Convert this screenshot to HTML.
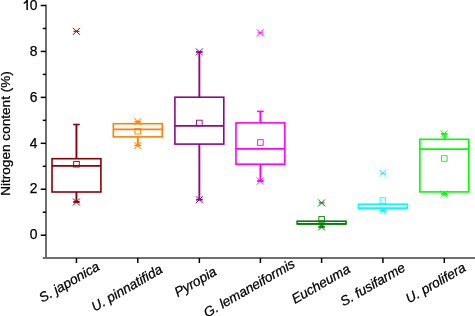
<!DOCTYPE html>
<html><head><meta charset="utf-8">
<style>
html,body{margin:0;padding:0;background:#fff;}
body{width:475px;height:316px;overflow:hidden;}
svg{display:block;will-change:transform;}
.tl{font-family:"Liberation Sans",sans-serif;font-size:13.8px;fill:#000;stroke:#000;stroke-width:0.25px;}
.xl{font-family:"Liberation Sans",sans-serif;font-size:13.6px;font-style:italic;fill:#000;stroke:#000;stroke-width:0.25px;}
.yt{font-family:"Liberation Sans",sans-serif;font-size:13.6px;fill:#000;stroke:#000;stroke-width:0.25px;}
</style></head><body>
<svg width="475" height="316" viewBox="0 0 475 316">
<rect width="475" height="316" fill="#fff"/>
<rect x="45" y="4.6" width="2" height="254.4" fill="#6e6e6e"/>
<rect x="42.8" y="257" width="432.2" height="2" fill="#6e6e6e"/>
<line x1="40.7" y1="235.2" x2="46" y2="235.2" stroke="#000" stroke-width="1.5"/>
<line x1="42.8" y1="212.23" x2="46" y2="212.23" stroke="#000" stroke-width="1.5"/>
<line x1="40.7" y1="189.26" x2="46" y2="189.26" stroke="#000" stroke-width="1.5"/>
<line x1="42.8" y1="166.29" x2="46" y2="166.29" stroke="#000" stroke-width="1.5"/>
<line x1="40.7" y1="143.32" x2="46" y2="143.32" stroke="#000" stroke-width="1.5"/>
<line x1="42.8" y1="120.35" x2="46" y2="120.35" stroke="#000" stroke-width="1.5"/>
<line x1="40.7" y1="97.38" x2="46" y2="97.38" stroke="#000" stroke-width="1.5"/>
<line x1="42.8" y1="74.41" x2="46" y2="74.41" stroke="#000" stroke-width="1.5"/>
<line x1="40.7" y1="51.44" x2="46" y2="51.44" stroke="#000" stroke-width="1.5"/>
<line x1="42.8" y1="28.47" x2="46" y2="28.47" stroke="#000" stroke-width="1.5"/>
<line x1="40.7" y1="5.5" x2="46" y2="5.5" stroke="#000" stroke-width="1.5"/>
<text x="37.4" y="239.4" text-anchor="end" class="tl">0</text>
<text x="37.4" y="193.46" text-anchor="end" class="tl">2</text>
<text x="37.4" y="147.52" text-anchor="end" class="tl">4</text>
<text x="37.4" y="101.58" text-anchor="end" class="tl">6</text>
<text x="37.4" y="55.64" text-anchor="end" class="tl">8</text>
<text x="37.4" y="9.7" text-anchor="end" class="tl">0</text>
<path d="M26.5 0.1H27.9V9.9H26.4V2.6C25.6 3.3 24.6 3.8 23.7 4.1V2.6C24.9 2.1 25.9 1.1 26.4 0.1Z" fill="#000"/>
<line x1="76.45" y1="258" x2="76.45" y2="263" stroke="#000" stroke-width="1.5"/>
<line x1="137.8" y1="258" x2="137.8" y2="263" stroke="#000" stroke-width="1.5"/>
<line x1="199.35" y1="258" x2="199.35" y2="263" stroke="#000" stroke-width="1.5"/>
<line x1="260.4" y1="258" x2="260.4" y2="263" stroke="#000" stroke-width="1.5"/>
<line x1="321.6" y1="258" x2="321.6" y2="263" stroke="#000" stroke-width="1.5"/>
<line x1="382.9" y1="258" x2="382.9" y2="263" stroke="#000" stroke-width="1.5"/>
<line x1="444.3" y1="258" x2="444.3" y2="263" stroke="#000" stroke-width="1.5"/>
<line x1="76.45" y1="124.5" x2="76.45" y2="158.7" stroke="#860008" stroke-width="1.9"/>
<line x1="76.45" y1="192" x2="76.45" y2="202" stroke="#860008" stroke-width="1.9"/>
<line x1="73.15" y1="124.5" x2="79.75" y2="124.5" stroke="#860008" stroke-width="1.6"/>
<line x1="73.15" y1="202" x2="79.75" y2="202" stroke="#860008" stroke-width="1.6"/>
<rect x="52" y="158.7" width="48.9" height="33.3" fill="none" stroke="#860008" stroke-width="1.6"/>
<line x1="52" y1="165.8" x2="100.9" y2="165.8" stroke="#860008" stroke-width="1.8"/>
<rect x="73.65" y="161.4" width="5.6" height="5.6" fill="none" stroke="#860008" stroke-width="0.9"/>
<path d="M72.95 27.8L79.95 34.8M72.95 34.8L79.95 27.8" stroke="#860008" stroke-width="1" fill="none"/>
<line x1="73.45" y1="31.3" x2="79.45" y2="31.3" stroke="#860008" stroke-width="1"/>
<path d="M72.95 198.5L79.95 205.5M72.95 205.5L79.95 198.5" stroke="#860008" stroke-width="1" fill="none"/>
<line x1="73.45" y1="202" x2="79.45" y2="202" stroke="#860008" stroke-width="1"/>
<line x1="137.8" y1="121.6" x2="137.8" y2="123.7" stroke="#FF8000" stroke-width="1.9"/>
<line x1="137.8" y1="136.9" x2="137.8" y2="145.5" stroke="#FF8000" stroke-width="1.9"/>
<line x1="134.5" y1="121.6" x2="141.1" y2="121.6" stroke="#FF8000" stroke-width="1.6"/>
<line x1="134.5" y1="145.5" x2="141.1" y2="145.5" stroke="#FF8000" stroke-width="1.6"/>
<rect x="113.35" y="123.7" width="48.9" height="13.2" fill="none" stroke="#FF8000" stroke-width="1.6"/>
<line x1="113.35" y1="129.4" x2="162.25" y2="129.4" stroke="#FF8000" stroke-width="1.8"/>
<rect x="135" y="128.4" width="5.6" height="5.6" fill="none" stroke="#FF8000" stroke-width="0.9"/>
<path d="M134.3 118.1L141.3 125.1M134.3 125.1L141.3 118.1" stroke="#FF8000" stroke-width="1" fill="none"/>
<line x1="134.8" y1="121.6" x2="140.8" y2="121.6" stroke="#FF8000" stroke-width="1"/>
<path d="M134.3 142L141.3 149M134.3 149L141.3 142" stroke="#FF8000" stroke-width="1" fill="none"/>
<line x1="134.8" y1="145.5" x2="140.8" y2="145.5" stroke="#FF8000" stroke-width="1"/>
<line x1="199.35" y1="51.9" x2="199.35" y2="97.2" stroke="#8a0a8a" stroke-width="1.9"/>
<line x1="199.35" y1="144.1" x2="199.35" y2="199.7" stroke="#8a0a8a" stroke-width="1.9"/>
<line x1="196.05" y1="51.9" x2="202.65" y2="51.9" stroke="#8a0a8a" stroke-width="1.6"/>
<line x1="196.05" y1="199.7" x2="202.65" y2="199.7" stroke="#8a0a8a" stroke-width="1.6"/>
<rect x="174.9" y="97.2" width="48.9" height="46.9" fill="none" stroke="#8a0a8a" stroke-width="1.6"/>
<line x1="174.9" y1="125.8" x2="223.8" y2="125.8" stroke="#8a0a8a" stroke-width="1.8"/>
<rect x="196.55" y="120.2" width="5.6" height="5.6" fill="none" stroke="#8a0a8a" stroke-width="0.9"/>
<path d="M195.85 48.4L202.85 55.4M195.85 55.4L202.85 48.4" stroke="#8a0a8a" stroke-width="1" fill="none"/>
<line x1="196.35" y1="51.9" x2="202.35" y2="51.9" stroke="#8a0a8a" stroke-width="1"/>
<path d="M195.85 196.2L202.85 203.2M195.85 203.2L202.85 196.2" stroke="#8a0a8a" stroke-width="1" fill="none"/>
<line x1="196.35" y1="199.7" x2="202.35" y2="199.7" stroke="#8a0a8a" stroke-width="1"/>
<line x1="260.4" y1="111.4" x2="260.4" y2="122.9" stroke="#FF00FF" stroke-width="1.9"/>
<line x1="260.4" y1="164.2" x2="260.4" y2="181.1" stroke="#FF00FF" stroke-width="1.9"/>
<line x1="257.1" y1="111.4" x2="263.7" y2="111.4" stroke="#FF00FF" stroke-width="1.6"/>
<line x1="257.1" y1="181.1" x2="263.7" y2="181.1" stroke="#FF00FF" stroke-width="1.6"/>
<rect x="235.95" y="122.9" width="48.9" height="41.3" fill="none" stroke="#FF00FF" stroke-width="1.6"/>
<line x1="235.95" y1="148.8" x2="284.85" y2="148.8" stroke="#FF00FF" stroke-width="1.8"/>
<rect x="257.6" y="139.7" width="5.6" height="5.6" fill="none" stroke="#FF00FF" stroke-width="0.9"/>
<path d="M256.9 29.4L263.9 36.4M256.9 36.4L263.9 29.4" stroke="#FF00FF" stroke-width="1" fill="none"/>
<line x1="257.4" y1="32.9" x2="263.4" y2="32.9" stroke="#FF00FF" stroke-width="1"/>
<path d="M256.9 177.6L263.9 184.6M256.9 184.6L263.9 177.6" stroke="#FF00FF" stroke-width="1" fill="none"/>
<line x1="257.4" y1="181.1" x2="263.4" y2="181.1" stroke="#FF00FF" stroke-width="1"/>
<line x1="321.6" y1="221.2" x2="321.6" y2="221.2" stroke="#008000" stroke-width="1.9"/>
<line x1="321.6" y1="223.9" x2="321.6" y2="227" stroke="#008000" stroke-width="1.9"/>
<line x1="318.3" y1="221.2" x2="324.9" y2="221.2" stroke="#008000" stroke-width="1.6"/>
<line x1="318.3" y1="227" x2="324.9" y2="227" stroke="#008000" stroke-width="1.6"/>
<rect x="297.15" y="221.2" width="48.9" height="2.7" fill="none" stroke="#008000" stroke-width="1.6"/>
<line x1="297.15" y1="223.9" x2="346.05" y2="223.9" stroke="#008000" stroke-width="1.8"/>
<rect x="318.8" y="216.6" width="5.6" height="5.6" fill="none" stroke="#008000" stroke-width="0.9"/>
<path d="M318.1 199.4L325.1 206.4M318.1 206.4L325.1 199.4" stroke="#008000" stroke-width="1" fill="none"/>
<line x1="318.6" y1="202.9" x2="324.6" y2="202.9" stroke="#008000" stroke-width="1"/>
<path d="M318.1 223.5L325.1 230.5M318.1 230.5L325.1 223.5" stroke="#008000" stroke-width="1" fill="none"/>
<line x1="318.6" y1="227" x2="324.6" y2="227" stroke="#008000" stroke-width="1"/>
<line x1="382.9" y1="204.2" x2="382.9" y2="204.2" stroke="#00FFFF" stroke-width="1.9"/>
<line x1="382.9" y1="208.3" x2="382.9" y2="210.7" stroke="#00FFFF" stroke-width="1.9"/>
<line x1="379.6" y1="204.2" x2="386.2" y2="204.2" stroke="#00FFFF" stroke-width="1.6"/>
<line x1="379.6" y1="210.7" x2="386.2" y2="210.7" stroke="#00FFFF" stroke-width="1.6"/>
<rect x="358.45" y="204.2" width="48.9" height="4.1" fill="none" stroke="#00FFFF" stroke-width="1.6"/>
<line x1="358.45" y1="208.3" x2="407.35" y2="208.3" stroke="#00FFFF" stroke-width="1.8"/>
<rect x="380.1" y="197.8" width="5.6" height="5.6" fill="none" stroke="#00FFFF" stroke-width="0.9"/>
<path d="M379.4 169.8L386.4 176.8M379.4 176.8L386.4 169.8" stroke="#00FFFF" stroke-width="1" fill="none"/>
<line x1="379.9" y1="173.3" x2="385.9" y2="173.3" stroke="#00FFFF" stroke-width="1"/>
<path d="M379.4 207.2L386.4 214.2M379.4 214.2L386.4 207.2" stroke="#00FFFF" stroke-width="1" fill="none"/>
<line x1="379.9" y1="210.7" x2="385.9" y2="210.7" stroke="#00FFFF" stroke-width="1"/>
<line x1="444.3" y1="133.9" x2="444.3" y2="139.3" stroke="#00FF00" stroke-width="1.9"/>
<line x1="444.3" y1="191.9" x2="444.3" y2="194" stroke="#00FF00" stroke-width="1.9"/>
<line x1="441" y1="133.9" x2="447.6" y2="133.9" stroke="#00FF00" stroke-width="1.6"/>
<line x1="441" y1="194" x2="447.6" y2="194" stroke="#00FF00" stroke-width="1.6"/>
<rect x="419.85" y="139.3" width="48.9" height="52.6" fill="none" stroke="#00FF00" stroke-width="1.6"/>
<line x1="419.85" y1="149.1" x2="468.75" y2="149.1" stroke="#00FF00" stroke-width="1.8"/>
<rect x="441.5" y="155.7" width="5.6" height="5.6" fill="none" stroke="#00FF00" stroke-width="0.9"/>
<path d="M440.8 130.4L447.8 137.4M440.8 137.4L447.8 130.4" stroke="#00FF00" stroke-width="1" fill="none"/>
<line x1="441.3" y1="133.9" x2="447.3" y2="133.9" stroke="#00FF00" stroke-width="1"/>
<path d="M440.8 190.5L447.8 197.5M440.8 197.5L447.8 190.5" stroke="#00FF00" stroke-width="1" fill="none"/>
<line x1="441.3" y1="194" x2="447.3" y2="194" stroke="#00FF00" stroke-width="1"/>
<text x="100.6" y="269.1" text-anchor="end" class="xl" transform="rotate(-30 100.6 269.1)">S. japonica</text>
<text x="163.5" y="272" text-anchor="end" class="xl" transform="rotate(-30 163.5 272)">U. pinnatifida</text>
<text x="217.6" y="274.3" text-anchor="end" class="xl" transform="rotate(-30 217.6 274.3)">Pyropia</text>
<text x="296" y="266.4" text-anchor="end" class="xl" transform="rotate(-30 296 266.4)">G. lemaneiformis</text>
<text x="351.2" y="271.6" text-anchor="end" class="xl" transform="rotate(-30 351.2 271.6)">Eucheuma</text>
<text x="406.4" y="270.2" text-anchor="end" class="xl" transform="rotate(-30 406.4 270.2)">S. fusifarme</text>
<text x="466.7" y="270.3" text-anchor="end" class="xl" transform="rotate(-30 466.7 270.3)">U. prolifera</text>
<text x="0" y="0" text-anchor="middle" class="yt" transform="translate(9.6 133.5) rotate(-90)">Nitrogen content (%)</text>
</svg>
</body></html>
